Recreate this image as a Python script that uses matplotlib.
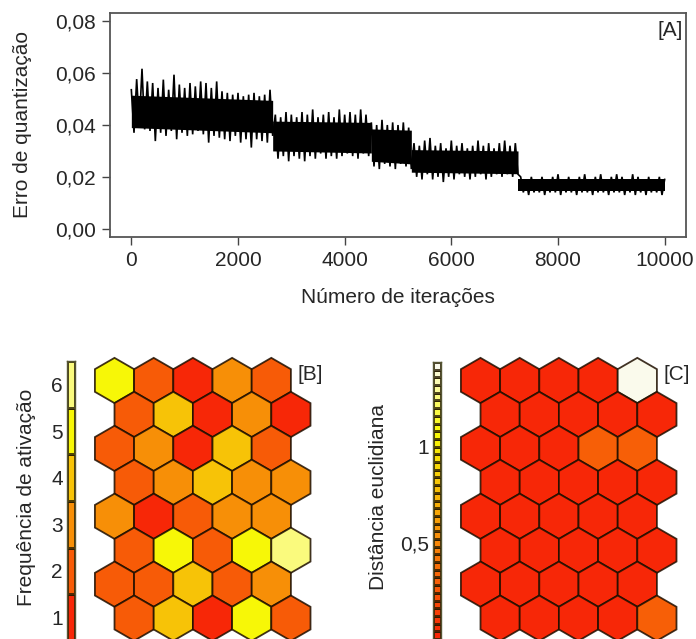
import numpy as np
import matplotlib
matplotlib.use("Agg")
import matplotlib.pyplot as plt
from matplotlib.colors import hsv_to_rgb, ListedColormap, BoundaryNorm
from matplotlib.patches import RegularPolygon

plt.rcParams['font.family'] = ['Liberation Sans', 'DejaVu Sans']

# ---------------- data: panel A (quantization error) ----------------
iterations = np.arange(0, 10001, 100)
upper_peak = [
    0.0536, 0.0577, 0.0617, 0.0568, 0.0562, 0.0543, 0.0575, 0.0536, 0.0594, 0.0556,
    0.0543, 0.0562, 0.0549, 0.0568, 0.0562, 0.0543, 0.0568, 0.0530, 0.0524, 0.0517,
    0.0524, 0.0511, 0.0517, 0.0524, 0.0511, 0.0517, 0.0536,
    0.044, 0.043, 0.045, 0.044, 0.043, 0.045, 0.044, 0.046, 0.043, 0.044,
    0.045, 0.043, 0.046, 0.044, 0.045, 0.044, 0.046, 0.044,
    0.041, 0.040, 0.042, 0.040, 0.041, 0.040, 0.041, 0.039,
    0.033, 0.032, 0.034, 0.035, 0.032, 0.033, 0.031, 0.034, 0.032, 0.033,
    0.031, 0.032, 0.034, 0.032, 0.033, 0.031, 0.033, 0.034, 0.032, 0.033,
    0.020, 0.019, 0.020, 0.019, 0.020, 0.019, 0.020, 0.021, 0.019, 0.020,
    0.019, 0.020, 0.021, 0.019, 0.020, 0.021, 0.019, 0.020, 0.021, 0.020,
    0.019, 0.021, 0.020, 0.019, 0.020, 0.019, 0.020, 0.019]
lower_peak = [
    0.0370, 0.0402, 0.0383, 0.0377, 0.0338, 0.0370, 0.0358, 0.0377, 0.0345, 0.0370,
    0.0358, 0.0364, 0.0377, 0.0364, 0.0332, 0.0358, 0.0351, 0.0345, 0.0338, 0.0358,
    0.0332, 0.0345, 0.0313, 0.0345, 0.0338, 0.0332, 0.0358,
    0.027, 0.028, 0.026, 0.028, 0.027, 0.026, 0.028, 0.027, 0.029, 0.027,
    0.028, 0.027, 0.028, 0.029, 0.028, 0.027, 0.029, 0.028,
    0.024, 0.023, 0.025, 0.024, 0.023, 0.025, 0.024, 0.023,
    0.020, 0.019, 0.021, 0.019, 0.020, 0.018, 0.020, 0.019, 0.021, 0.020,
    0.019, 0.020, 0.021, 0.019, 0.020, 0.021, 0.020, 0.021, 0.020, 0.021,
    0.014, 0.013, 0.014, 0.014, 0.013, 0.014, 0.014, 0.013, 0.014, 0.014,
    0.013, 0.014, 0.014, 0.013, 0.014, 0.014, 0.013, 0.014, 0.014, 0.013,
    0.014, 0.013, 0.014, 0.013, 0.014, 0.014, 0.013, 0.014]
segment_bounds = [0, 2650, 4500, 5250, 7250, 10000]
core_hi_start = [0.0515, 0.0415, 0.0385, 0.0305, 0.0190]
core_hi_end = [0.0495, 0.0410, 0.0380, 0.0300, 0.0190]
core_lo_start = [0.0390, 0.0300, 0.0260, 0.0218, 0.0145]
core_lo_end = [0.0370, 0.0292, 0.0250, 0.0212, 0.0145]
x_ticks = [0, 2000, 4000, 6000, 8000, 10000]
y_ticks = [0.00, 0.02, 0.04, 0.06, 0.08]
y_tick_labels = ['0,00', '0,02', '0,04', '0,06', '0,08']

# ---------------- data: panel B (activation frequency), rows top->bottom ----------------
freq = [
    [5, 2, 1, 3, 2],
    [2, 4, 1, 3, 1],
    [2, 3, 1, 4, 2],
    [2, 3, 4, 3, 3],
    [3, 1, 2, 3, 3],
    [2, 5, 2, 5, 6],
    [2, 2, 4, 2, 3],
    [2, 4, 1, 5, 2],
]
freq_ticks = [1, 2, 3, 4, 5, 6]

# ---------------- data: panel C (euclidean distance), rows top->bottom ----------------
dist = [
    [0.02, 0.02, 0.02, 0.02, 1.43],
    [0.02, 0.02, 0.02, 0.02, 0.02],
    [0.02, 0.02, 0.02, 0.30, 0.30],
    [0.02, 0.02, 0.02, 0.02, 0.02],
    [0.02, 0.02, 0.02, 0.02, 0.02],
    [0.02, 0.02, 0.02, 0.02, 0.02],
    [0.02, 0.02, 0.02, 0.02, 0.02],
    [0.02, 0.02, 0.02, 0.02, 0.30],
]
dist_max = 1.44
dist_ticks = [0.5, 1.0]
dist_tick_labels = ['0,5', '1']


def heat_colors(n):
    # R-style heat.colors, slightly warmed to match the printed figure
    j = n // 4
    i = n - j
    cols = [hsv_to_rgb((h, 0.97, 0.97)) for h in np.linspace(0.022, 1 / 6, i)]
    if j > 0:
        cols += [hsv_to_rgb((1 / 6, s, 0.98)) for s in np.linspace(1 - 1 / (2 * j), 1 / (2 * j), j)]
    return cols


W, H = 696, 639
fig = plt.figure(figsize=(W / 100, H / 100), dpi=100)
TXT = '#262626'
FS = 15


def px_axes(x0, y0, x1, y1):
    return fig.add_axes([x0 / W, 1 - y1 / H, (x1 - x0) / W, (y1 - y0) / H])


# ---------------- Panel A ----------------
axA = px_axes(110, 13, 686, 237)
for k in range(len(segment_bounds) - 1):
    s, e = segment_bounds[k], segment_bounds[k + 1]
    axA.fill_between([s, e], [core_lo_start[k], core_lo_end[k]],
                     [core_hi_start[k], core_hi_end[k]], color='black', lw=0)
zig_x = np.column_stack([iterations, iterations + 50]).ravel()[:-1]
zig_y = np.column_stack([upper_peak, lower_peak]).ravel()[:-1]
axA.plot(zig_x, zig_y, color='black', lw=1.2, solid_joinstyle='miter')
axA.set_xlim(-400, 10400)
axA.set_ylim(-0.0032, 0.0832)
axA.set_xticks(x_ticks)
axA.set_xticklabels([str(v) for v in x_ticks])
axA.set_yticks(y_ticks)
axA.set_yticklabels(y_tick_labels)
axA.tick_params(axis='both', length=6, width=1.0, color='#444444', labelsize=FS,
                labelcolor=TXT)
axA.tick_params(axis='x', pad=4)
axA.tick_params(axis='y', pad=4)
for sp in axA.spines.values():
    sp.set_color('#555555')
    sp.set_linewidth(1.3)
axA.text(0.994, 0.965, '[A]', transform=axA.transAxes, ha='right', va='top',
         fontsize=FS, color=TXT)
fig.text(23 / W, 1 - 125 / H, 'Erro de quantização', rotation=90, ha='center',
         va='center', fontsize=FS, color=TXT)
fig.text(398 / W, 1 - 297 / H, 'Número de iterações', ha='center', va='center',
         fontsize=FS, color=TXT)

# ---------------- hex helper ----------------
UNIT = 39.2  # px per hex column


def hex_panel(values, cmap, norm, x_first, y_first, label):
    x0, x1, y0, y1 = x_first - 25, x_first + 220, 350, 639
    ax = px_axes(x0, y0, x1, y1)
    ax.set_xlim((x0 - x_first) / UNIT, (x1 - x_first) / UNIT)
    ax.set_ylim(-(y1 - y_first) / UNIT, (y_first - y0) / UNIT)
    ax.set_axis_off()
    r = 1 / np.sqrt(3)
    for row, vals in enumerate(values):
        for col, v in enumerate(vals):
            cx = col + 0.5 * (row % 2)
            cy = -row * np.sqrt(3) / 2
            ax.add_patch(RegularPolygon((cx, cy), numVertices=6, radius=r,
                                        facecolor=cmap(norm(v)),
                                        edgecolor=(0.12, 0.06, 0.0, 0.85), lw=1.3))
    ax.text(4.68, 0.16, label, ha='left', va='center', fontsize=FS, color=TXT)
    return ax


def colorbar_panel(bounds, colors, xl, ytop, ybottom, ticks, tick_labels, ylim):
    ax = px_axes(xl, ytop, xl + 8, ybottom)
    centers = [(bounds[i] + bounds[i + 1]) / 2 for i in range(len(bounds) - 1)]
    cm = ListedColormap(colors)
    nm = BoundaryNorm(bounds, len(colors))
    ax.pcolormesh([0, 1], bounds, np.array(centers).reshape(-1, 1), cmap=cm, norm=nm,
                  edgecolors=(0.15, 0.1, 0.0, 0.8), linewidth=0.9)
    ax.set_xlim(0, 1)
    ax.set_ylim(*ylim)
    ax.set_xticks([])
    ax.set_yticks(ticks)
    ax.set_yticklabels(tick_labels)
    ax.tick_params(axis='y', length=0, pad=3, labelsize=FS, labelcolor=TXT)
    for sp in ax.spines.values():
        sp.set_color('#555533')
        sp.set_linewidth(1.0)
    return ax


# ---------------- Panel B ----------------
b_colors = heat_colors(6)
b_bounds = [0.5, 1.5, 2.5, 3.5, 4.5, 5.5, 6.5]
b_cmap = ListedColormap(b_colors)
b_norm = BoundaryNorm(b_bounds, 6)
hex_panel(freq, b_cmap, b_norm, 114.5, 380.5, '[B]')
colorbar_panel(b_bounds, b_colors, 67, 361, 641, freq_ticks,
               [str(t) for t in freq_ticks], (0.5, 6.5))
fig.text(27 / W, 1 - 497 / H, 'Frequência de ativação', rotation=90, ha='center',
         va='center', fontsize=FS, color=TXT)

# ---------------- Panel C ----------------
n_c = 36
c_colors = heat_colors(n_c)
c_bounds = list(np.linspace(0, dist_max, n_c + 1))
c_cmap = ListedColormap(c_colors)
c_norm = BoundaryNorm(c_bounds, n_c)
hex_panel(dist, c_cmap, c_norm, 480.5, 380.5, '[C]')
colorbar_panel(c_bounds, c_colors, 433, 362, 639, dist_ticks, dist_tick_labels,
               (0, dist_max))
fig.text(378 / W, 1 - 497 / H, 'Distância euclidiana', rotation=90, ha='center',
         va='center', fontsize=FS, color=TXT)

fig.savefig('out.png', dpi=100)
